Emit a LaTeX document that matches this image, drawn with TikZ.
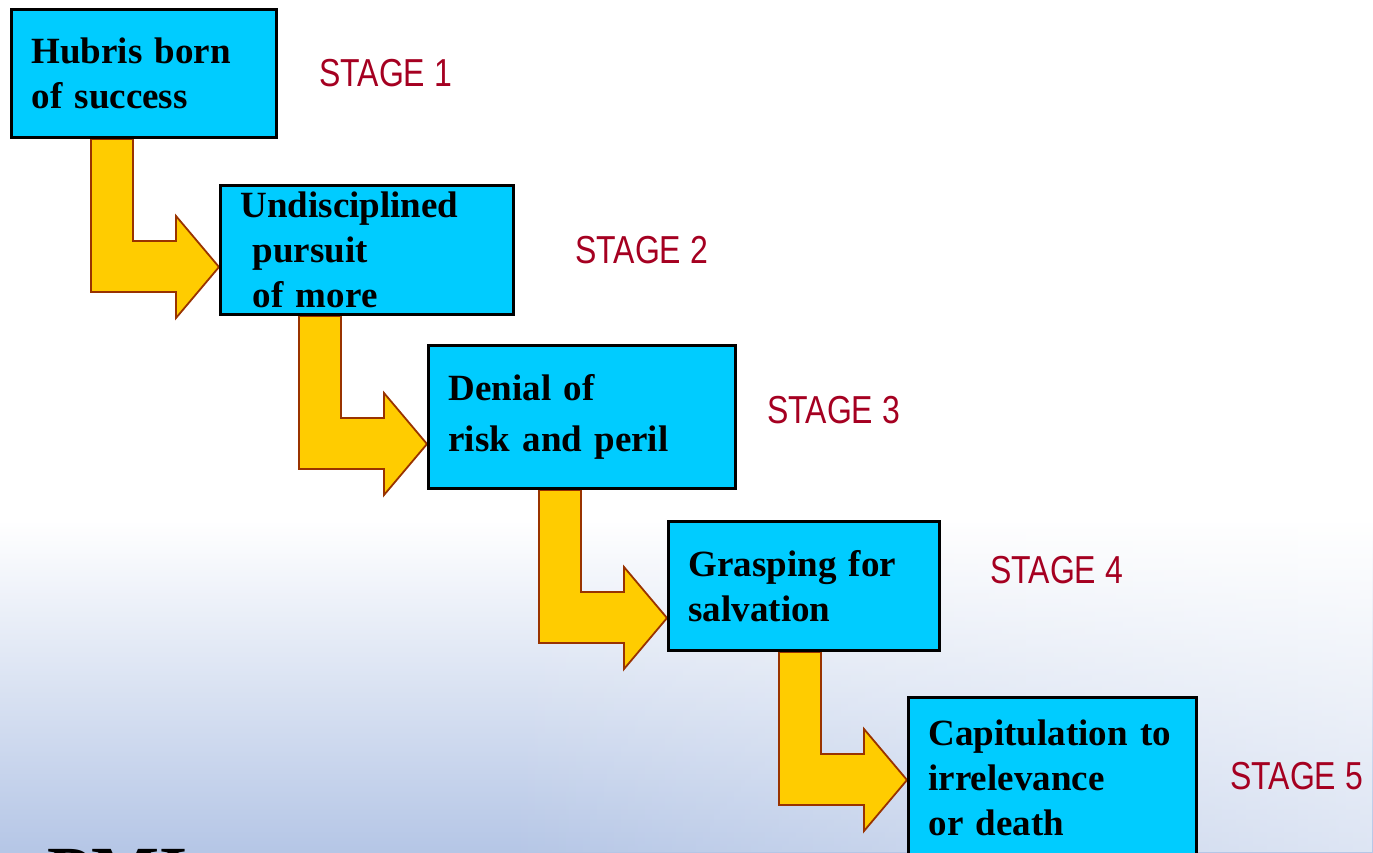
\documentclass[tikz,border=0pt]{standalone}
\usepackage{fontspec}
\setmainfont{Liberation Serif}
\newfontfamily\stagefont{Liberation Sans}
\usetikzlibrary{fadings}

\definecolor{boxcyan}{HTML}{00CCFF}
\definecolor{arrowgold}{HTML}{FFCC00}
\definecolor{arrowedge}{HTML}{993300}
\definecolor{stagered}{HTML}{A50021}
\definecolor{paperblue}{HTML}{B5C6E6}

\pgfdeclarelayer{paper}
\pgfdeclarelayer{under}
\pgfsetlayers{paper,under,main}

\tikzset{
  stagebox/.style={draw=black, line width=3pt, fill=boxcyan, anchor=north west,
    align=left, inner xsep=20pt, inner ysep=0pt,
    font=\fontsize{37}{45}\selectfont\bfseries},
  stagelabel/.style={anchor=west, inner sep=0pt, text=stagered, xscale=.82,
    font=\stagefont\fontsize{39}{45}\selectfont},
  bentarrow/.style={fill=arrowgold, draw=arrowedge, line width=1.8pt},
}

% bent arrow from the bottom of #1 to the left side of #2
\newcommand{\bendarrow}[2]{%
  \path (#2.west |- #1.south) coordinate (#1-#2);
  \draw[bentarrow, shift={(#1-#2)}] (-128,0) -- (-86,0) -- (-86,102) -- (-43,102)
    -- (-43,77) -- (0,128) -- (-43,179) -- (-43,153) -- (-128,153) -- cycle;}

\begin{document}
\begin{tikzpicture}[x=1pt, y=-1pt]
  \useasboundingbox (0,0) rectangle (1373,852);
  \begin{pgfonlayer}{paper}
    \fill[white] (0,0) rectangle (1373,852);
    \shade[top color=white, bottom color=paperblue] (0,520) rectangle (1373,852);
    \fill[white, opacity=.55, path fading=west] (500,480) rectangle (1373,852);
  \end{pgfonlayer}
  \node[anchor=north west, inner sep=0pt, text=black,
    font=\fontsize{72}{72}\selectfont\bfseries] (logo) at (47,849) {PMI};

  \node[stagebox, text width=225pt, minimum height=128pt] (hubris) at (10,8) {Hubris born\\of success};
  \node[stagebox, text width=253pt, minimum height=129pt] (pursuit) at (219,184) {Undisciplined\\\ pursuit\\\ of more};
  \node[stagebox, text width=267pt, minimum height=143pt] (denial) at (427,344) {Denial of\\[6pt]risk and peril};
  \node[stagebox, text width=231pt, minimum height=129pt] (grasping) at (667,520) {Grasping for\\salvation};
  \node[stagebox, text width=248pt, minimum height=160pt] (capitulation) at (907,696) {Capitulation to\\irrelevance\\or death};

  \node[stagelabel] (stage1) at (319,73) {STAGE 1};
  \node[stagelabel] (stage2) at (575,250) {STAGE 2};
  \node[stagelabel] (stage3) at (767,410) {STAGE 3};
  \node[stagelabel] (stage4) at (990,570) {STAGE 4};
  \node[stagelabel] (stage5) at (1230,776) {STAGE 5};

  \begin{pgfonlayer}{under}
    \bendarrow{hubris}{pursuit}
    \bendarrow{pursuit}{denial}
    \bendarrow{denial}{grasping}
    \bendarrow{grasping}{capitulation}
  \end{pgfonlayer}
\end{tikzpicture}
\end{document}
